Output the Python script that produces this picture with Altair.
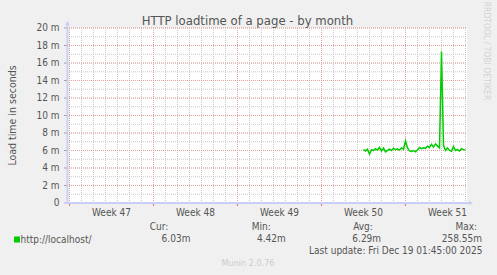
import altair as alt
import pandas as pd

# ---------------- data ----------------
# x is measured in days from the start of "Week 47"; one sample every 4 hours
load_ms = [6.1, 5.95, 6.15, 5.6, 6.1, 6.0, 6.2, 6.05, 6.35, 5.95,
           6.3, 5.85, 6.0, 6.15, 6.0, 6.25, 6.1, 6.2, 6.05, 6.3,
           6.15, 7.1, 6.3, 5.95, 5.9, 6.0, 5.85, 6.05, 6.35, 6.2,
           6.3, 6.25, 6.5, 6.35, 6.7, 6.4, 6.75, 6.5, 6.3, 17.3,
           6.6, 6.0, 6.3, 6.0, 5.9, 6.45, 6.0, 6.1, 5.95, 6.2,
           6.1, 6.05]
sample_day = [24.5 + i / 6 for i in range(len(load_ms))]

y_tick_values = [0, 2, 4, 6, 8, 10, 12, 14, 16, 18, 20]
y_tick_labels = ["0", "2 m", "4 m", "6 m", "8 m", "10 m", "12 m", "14 m", "16 m", "18 m", "20 m"]
y_minor_values = list(range(1, 21))
day_lines = list(range(0, 34))
week_lines = [0, 7, 14, 21, 28]
week_centers = [3.5, 10.5, 17.5, 24.5, 31.5]
week_labels = ["Week 47", "Week 48", "Week 49", "Week 50", "Week 51"]

title_text = "HTTP loadtime of a page - by month"
y_title = "Load time in seconds"
series_name = "http://localhost/"
legend_headers = ["Cur:", "Min:", "Avg:", "Max:"]
legend_values = ["6.03m", "4.42m", "6.29m", "258.55m"]
last_update = "Last update: Fri Dec 19 01:45:00 2025"
munin_version = "Munin 2.0.76"
rrd_credit = "RRDTOOL / TOBI OETIKER"

# ---------------- styling ----------------
FONT = "DejaVu Sans Condensed, DejaVu Sans, sans-serif"
TXT = "#555555"
GREEN = "#00cc00"
AXIS = "#c8cef4"
MINOR = "#c8c8c8"
MAJOR = "#e6a0a0"
W, H = 400, 175
OX, OY = 67, 28  # plot origin in the page

xs = alt.Scale(domain=[-2.5 / 12, -2.5 / 12 + 400 / 12], nice=False, zero=False)
ys = alt.Scale(domain=[0, 20], nice=False, zero=True)

line_df = pd.DataFrame({"t": sample_day, "v": load_ms})
ytick_df = pd.DataFrame({"v": y_tick_values, "lab": y_tick_labels})
yminor_df = pd.DataFrame({"v": y_minor_values})
ymajor_df = pd.DataFrame({"v": [v for v in y_tick_values if v > 0]})
day_df = pd.DataFrame({"t": day_lines})
week_df = pd.DataFrame({"t": week_lines})
weeklab_df = pd.DataFrame({"t": week_centers, "lab": week_labels})
one = pd.DataFrame({"k": [0]})

X = lambda f: alt.X(f, type="quantitative", scale=xs, axis=None)
Y = lambda f: alt.Y(f, type="quantitative", scale=ys, axis=None)

layers = []
# grid
layers.append(alt.Chart(yminor_df).mark_rule(color=MINOR, strokeWidth=1, strokeDash=[1, 1]).encode(
    y=Y("v"), x=alt.value(0), x2=alt.value(W)))
layers.append(alt.Chart(day_df).mark_rule(color=MINOR, strokeWidth=1, strokeDash=[1, 1]).encode(
    x=X("t"), y=alt.value(0), y2=alt.value(H)))
layers.append(alt.Chart(ymajor_df).mark_rule(color=MAJOR, strokeWidth=1, strokeDash=[1, 1]).encode(
    y=Y("v"), x=alt.value(0), x2=alt.value(W)))
layers.append(alt.Chart(week_df).mark_rule(color=MAJOR, strokeWidth=1, strokeDash=[1, 1]).encode(
    x=X("t"), y=alt.value(0), y2=alt.value(H)))

# ticks
layers.append(alt.Chart(ytick_df).mark_rule(color="#a0a0a0", strokeWidth=1).encode(
    y=Y("v"), x=alt.value(-3), x2=alt.value(0)))
layers.append(alt.Chart(week_df).mark_rule(color="#e07070", strokeWidth=1).encode(
    x=X("t"), y=alt.value(H), y2=alt.value(H + 3)))

# axes lines and arrows
layers.append(alt.Chart(one).mark_rule(color=AXIS, strokeWidth=2).encode(
    x=alt.value(0.5), y=alt.value(-4), y2=alt.value(H)))
layers.append(alt.Chart(one).mark_rule(color=AXIS, strokeWidth=2).encode(
    x=alt.value(-3), x2=alt.value(W + 2), y=alt.value(H)))
layers.append(alt.Chart(one).mark_point(shape="triangle-up", filled=True, color=AXIS, size=22, opacity=1).encode(
    x=alt.value(0.5), y=alt.value(-5)))
layers.append(alt.Chart(one).mark_point(shape="triangle-right", filled=True, color=AXIS, size=22, opacity=1).encode(
    x=alt.value(W + 4), y=alt.value(H)))

# data line
layers.append(alt.Chart(line_df).mark_line(color=GREEN, strokeWidth=1.5).encode(
    x=X("t"), y=Y("v")))

# axis labels
layers.append(alt.Chart(ytick_df).mark_text(align="right", baseline="middle", font=FONT, fontSize=10, color=TXT).encode(
    y=Y("v"), x=alt.value(-7.5), text="lab:N"))
layers.append(alt.Chart(weeklab_df).mark_text(align="center", baseline="middle", font=FONT, fontSize=10, color=TXT).encode(
    x=X("t"), y=alt.value(213.3 - OY), text="lab:N"))


def label(txt, x, y, size=10, color=TXT, align="left", angle=0):
    return alt.Chart(one).mark_text(text=txt, align=align, baseline="middle", font=FONT,
                                    fontSize=size, color=color, angle=angle).encode(
        x=alt.value(x - OX), y=alt.value(y - OY))


layers.append(label(title_text, 247.5, 21, size=13, align="center"))
layers.append(label(y_title, 13, 115.5, size=10.5, align="center", angle=270))
layers.append(label(rrd_credit, 486.5, 51, size=8.5, color="#d4d4d4", align="center", angle=90))

# legend
layers.append(alt.Chart(one).mark_square(size=36, filled=True, color=GREEN, opacity=1).encode(
    x=alt.value(17 - OX), y=alt.value(239.5 - OY)))
layers.append(label(series_name, 20.5, 239.5))
header_centers = [159, 261.2, 363, 466.3]
value_centers = [176, 271.3, 366.7, 461.8]
for h, cx in zip(legend_headers, header_centers):
    layers.append(label(h, cx, 227.3, align="center"))
for v, cx in zip(legend_values, value_centers):
    layers.append(label(v, cx, 239.3, align="center"))
layers.append(label(last_update, 482.5, 251, align="right"))
layers.append(label(munin_version, 248, 263, size=9, color="#cccccc", align="center"))

chart = alt.layer(*layers).properties(
    width=W, height=H,
    padding={"left": OX, "top": OY, "right": 497 - OX - W, "bottom": 275 - OY - H},
    autosize=alt.AutoSizeParams(type="none"),
    background="#f0f0f0",
).configure_view(fill="white", stroke=None)

chart.save("out.html", embed_options={"renderer": "svg", "actions": False})
